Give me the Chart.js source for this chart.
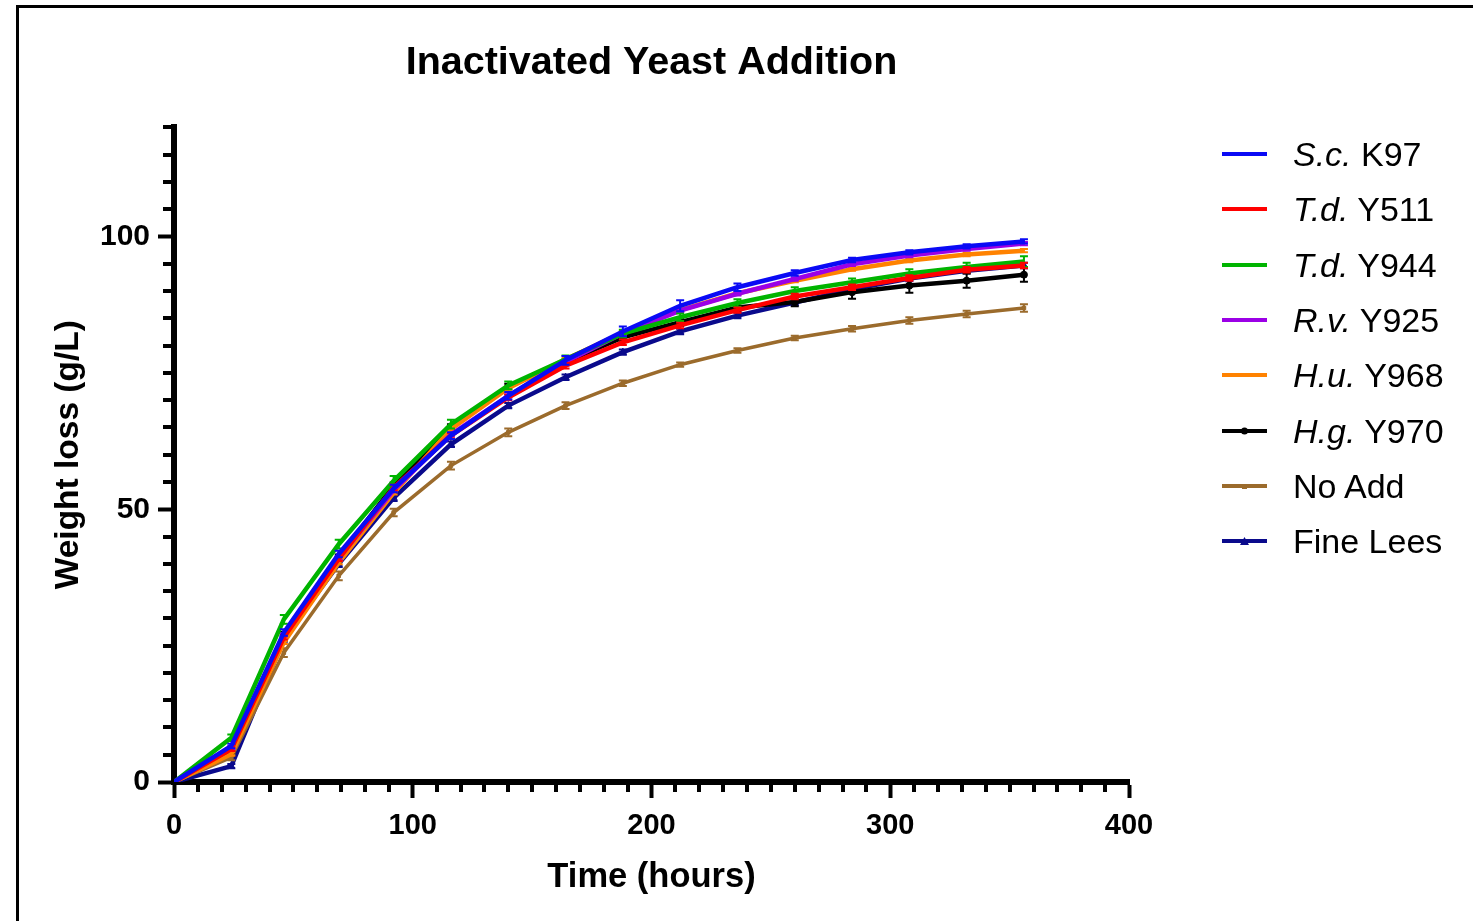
<!DOCTYPE html>
<html>
<head>
<meta charset="utf-8">
<title>Inactivated Yeast Addition</title>
<script src="https://cdn.jsdelivr.net/npm/chart.js@4.4.0/dist/chart.umd.min.js"></script>
<style>
  html, body { margin: 0; padding: 0; background: #fff; }
  #wrap { position: relative; width: 1473px; height: 921px; overflow: hidden; font-family: "Liberation Sans", Arial, sans-serif; }
  #frame { position: absolute; left: 16px; top: 5px; right: -10px; bottom: -10px; border-top: 3px solid #000; border-left: 3px solid #000; }
  #chart { position: absolute; left: 0; top: 0; }
  #legend { position: absolute; left: 1221px; top: 0; }
  .item { position: absolute; left: 0; height: 40px; width: 250px; white-space: nowrap; }
  .item svg { position: absolute; left: 0; top: 0; }
  .item span { position: absolute; left: 72px; top: 0; font-size: 34px; line-height: 40px; color: #000; }
</style>
</head>
<body>
<div id="wrap">
  <div id="frame"></div>
  <canvas id="chart" width="1473" height="921"></canvas>
  <div id="legend"></div>
</div>
<script>
// time points (hours)
var hours = [0, 24, 46, 69, 92, 116, 140, 164, 188, 212, 236, 260, 284, 308, 332, 356];

// weight loss (g/L) per treatment
var scK97   = [0, 6.6, 27.4, 41.8, 53.8, 63.5, 70.8, 77.3, 82.6, 87.3, 90.7, 93.3, 95.7, 97.1, 98.2, 99.1];
var tdY511  = [0, 6.0, 26.5, 40.9, 54.0, 63.5, 70.5, 76.3, 80.6, 83.7, 86.5, 89.0, 90.7, 92.4, 93.9, 94.7];
var tdY944  = [0, 8.1, 29.8, 43.6, 55.2, 65.6, 72.7, 77.5, 82.2, 85.2, 87.8, 90.0, 91.6, 93.2, 94.4, 95.4];
var rvY925  = [0, 6.3, 27.0, 41.0, 53.5, 63.7, 70.8, 77.0, 82.2, 86.4, 89.5, 92.2, 94.9, 96.5, 97.7, 98.7];
var huY968  = [0, 5.1, 25.6, 40.2, 53.0, 64.7, 72.2, 77.5, 82.4, 86.5, 89.6, 91.9, 94.0, 95.6, 96.7, 97.4];
var hgY970  = [0, 5.7, 27.1, 41.2, 54.3, 65.1, 72.5, 77.0, 81.5, 84.3, 87.0, 88.0, 89.8, 91.0, 91.9, 93.0];
var noAdd   = [0, 4.5, 23.7, 37.8, 49.4, 58.0, 64.1, 69.0, 73.1, 76.5, 79.1, 81.4, 83.1, 84.6, 85.8, 86.9];
var fineLees = [0, 2.9, 26.2, 40.0, 52.1, 61.9, 69.0, 74.2, 78.8, 82.6, 85.5, 87.9, 90.3, 92.3, 93.7, 94.7];

// error bars (+/- g/L)
var errScK97   = [0, 0.4, 0.6, 0.6, 0.7, 0.6, 0.7, 0.8, 0.9, 1.0, 0.7, 0.5, 0.4, 0.4, 0.4, 0.4];
var errTdY511  = [0, 0.3, 0.4, 0.4, 0.5, 0.5, 0.5, 0.5, 0.5, 0.5, 0.5, 0.5, 0.5, 0.5, 0.5, 0.5];
var errTdY944  = [0, 0.6, 0.8, 0.8, 0.9, 0.8, 0.7, 0.7, 0.7, 0.7, 0.7, 0.7, 0.7, 0.8, 0.8, 1.0];
var errRvY925  = [0, 0.3, 0.3, 0.3, 0.3, 0.3, 0.3, 0.3, 0.3, 0.3, 0.3, 0.3, 0.3, 0.3, 0.3, 0.3];
var errHuY968  = [0, 0.3, 0.3, 0.3, 0.3, 0.3, 0.3, 0.3, 0.3, 0.3, 0.3, 0.3, 0.3, 0.3, 0.3, 0.3];
var errHgY970  = [0, 0.3, 0.4, 0.5, 0.6, 0.5, 0.5, 0.5, 0.6, 0.7, 0.7, 0.8, 1.2, 1.3, 1.3, 1.3];
var errNoAdd   = [0, 0.5, 0.8, 0.8, 0.7, 0.7, 0.7, 0.6, 0.5, 0.4, 0.4, 0.4, 0.5, 0.6, 0.6, 0.7];
var errFineLees = [0, 0.4, 0.5, 0.6, 0.6, 0.5, 0.5, 0.5, 0.5, 0.5, 0.5, 0.5, 0.5, 0.5, 0.5, 0.5];

// legend text: italic species part + plain strain part
var legendItalic = ['S.c.', 'T.d.', 'T.d.', 'R.v.', 'H.u.', 'H.g.', '', ''];
var legendPlain  = ['K97', 'Y511', 'Y944', 'Y925', 'Y968', 'Y970', 'No Add', 'Fine Lees'];

// axis ticks
var xTicks = [0, 100, 200, 300, 400];
var yTicks = [0, 50, 100];
var xMinorStep = 10;
var yMinorStep = 5;

var seriesValues = [scK97, tdY511, tdY944, rvY925, huY968, hgY970, noAdd, fineLees];
var seriesErrors = [errScK97, errTdY511, errTdY944, errRvY925, errHuY968, errHgY970, errNoAdd, errFineLees];
var seriesColors = ['#0a0af5', '#ff0000', '#00b400', '#9b00e6', '#ff8200', '#000000', '#9b6b2c', '#0a0a8c'];
var seriesPoints = ['circle', 'circle', 'circle', 'circle', 'circle', 'circle', 'rect', 'triangle'];
var seriesRadius = [0, 0, 0, 0, 0, 3.5, 2.5, 4];
var seriesWidth  = [4.5, 4.5, 4.5, 4.5, 4.5, 4.5, 3.5, 4.5];

Chart.defaults.font.family = '"Liberation Sans", Arial, sans-serif';
Chart.defaults.color = '#000';

var datasets = seriesValues.map(function (vals, i) {
  return {
    label: legendItalic[i] ? legendItalic[i] + ' ' + legendPlain[i] : legendPlain[i],
    data: vals.map(function (v, j) { return { x: hours[j], y: v } }),
    borderColor: seriesColors[i],
    backgroundColor: seriesColors[i],
    borderWidth: seriesWidth[i],
    pointStyle: seriesPoints[i],
    pointRadius: seriesRadius[i],
    pointBorderWidth: 1,
    tension: 0,
    errors: seriesErrors[i]
  }
});

// error bars, drawn right after each dataset so the stacking order is kept
var errorBars = {
  id: 'errorBars',
  afterDatasetDraw: function (chart, args) {
    var ds = chart.data.datasets[args.index];
    if (!ds.errors) return;
    var ctx = chart.ctx, xs = chart.scales.x, ys = chart.scales.y;
    ctx.save();
    ctx.strokeStyle = ds.borderColor;
    ctx.lineWidth = 2;
    ds.data.forEach(function (p, j) {
      var e = ds.errors[j];
      if (!e) return;
      var px = xs.getPixelForValue(p.x);
      var top = ys.getPixelForValue(p.y + e);
      var bot = ys.getPixelForValue(p.y - e);
      ctx.beginPath();
      ctx.moveTo(px, top); ctx.lineTo(px, bot);
      ctx.moveTo(px - 4, top); ctx.lineTo(px + 4, top);
      ctx.moveTo(px - 4, bot); ctx.lineTo(px + 4, bot);
      ctx.stroke();
    });
    ctx.restore();
  }
};

// short unlabelled ticks between the labelled ones
var minorTicks = {
  id: 'minorTicks',
  afterDraw: function (chart) {
    var ctx = chart.ctx, xs = chart.scales.x, ys = chart.scales.y;
    var ax = chart.chartArea.left, ay = chart.chartArea.bottom;
    ctx.save();
    ctx.strokeStyle = '#000';
    ctx.lineWidth = 4;
    ctx.beginPath();
    for (var v = xs.min; v <= xs.max; v += xMinorStep) {
      if (xTicks.indexOf(v) >= 0) continue;
      var px = Math.round(xs.getPixelForValue(v));
      ctx.moveTo(px, ay); ctx.lineTo(px, ay + 10);
    }
    for (var w = ys.min; w <= ys.max; w += yMinorStep) {
      if (yTicks.indexOf(w) >= 0) continue;
      var py = Math.round(ys.getPixelForValue(w));
      ctx.moveTo(ax, py); ctx.lineTo(ax - 11, py);
    }
    ctx.stroke();
    ctx.restore();
  }
};

var ctx = document.getElementById('chart').getContext('2d');
var chart = new Chart(ctx, {
  type: 'line',
  data: { datasets: datasets },
  plugins: [errorBars, minorTicks],
  options: {
    responsive: false,
    animation: false,
    devicePixelRatio: 1,
    layout: { padding: { top: 0, right: 344, bottom: 0, left: 0 } },
    plugins: {
      legend: { display: false },
      tooltip: { enabled: false },
      title: {
        display: true,
        text: 'Inactivated Yeast Addition',
        fullSize: false,
        color: '#000',
        font: { size: 39.5, weight: 'bold' },
        padding: { top: 39, bottom: 41 }
      }
    },
    scales: {
      x: {
        type: 'linear',
        min: 0,
        max: 400,
        afterBuildTicks: function (scale) { scale.ticks = xTicks.map(function (v) { return { value: v } }) },
        afterFit: function (scale) { scale.height = 139 },
        ticks: { font: { size: 29, weight: 'bold' }, color: '#000', padding: 11, maxRotation: 0 },
        grid: { drawOnChartArea: false, drawTicks: true, tickLength: 16, tickWidth: 4, color: '#000' },
        border: { display: true, width: 6, color: '#000' },
        title: { display: true, text: 'Time (hours)', color: '#000', font: { size: 34.5, weight: 'bold' }, padding: { top: 0, bottom: 23 } }
      },
      y: {
        type: 'linear',
        min: 0,
        max: 120,
        afterBuildTicks: function (scale) { scale.ticks = yTicks.map(function (v) { return { value: v } }) },
        afterFit: function (scale) { scale.width = 174 },
        ticks: { font: { size: 30, weight: 'bold' }, color: '#000', padding: 8 },
        grid: { drawOnChartArea: false, drawTicks: true, tickLength: 16, tickWidth: 4, color: '#000' },
        border: { display: true, width: 6, color: '#000' },
        title: { display: true, text: 'Weight loss (g/L)', color: '#000', font: { size: 33.5, weight: 'bold' }, padding: { top: 49, bottom: 0 } }
      }
    }
  }
});

// legend with italic species names
var legend = document.getElementById('legend');
legendPlain.forEach(function (txt, i) {
  var item = document.createElement('div');
  item.className = 'item';
  item.style.top = (134 + i * 55.3) + 'px';
  var c = seriesColors[i];
  var mark = '';
  if (seriesPoints[i] === 'rect' && seriesRadius[i]) mark = '<rect x="21" y="18" width="5" height="5" fill="' + c + '"/>';
  else if (seriesPoints[i] === 'triangle' && seriesRadius[i]) mark = '<polygon points="23.5,16 28,24 19,24" fill="' + c + '"/>';
  else if (seriesRadius[i]) mark = '<circle cx="23.5" cy="20" r="3.5" fill="' + c + '"/>';
  item.innerHTML = '<svg width="48" height="40"><line x1="1" y1="20" x2="46" y2="20" stroke="' + c + '" stroke-width="4"/>' + mark + '</svg>' +
    '<span>' + (legendItalic[i] ? '<i>' + legendItalic[i] + '</i> ' : '') + txt + '</span>';
  legend.appendChild(item);
});
</script>
</body>
</html>
